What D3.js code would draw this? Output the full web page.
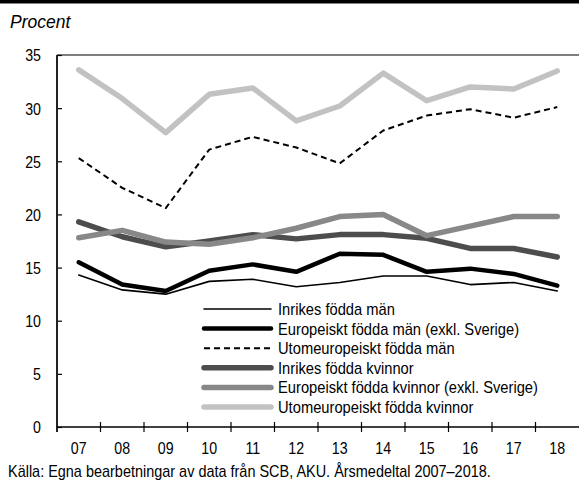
<!DOCTYPE html>
<html><head><meta charset="utf-8">
<script src="https://cdn.jsdelivr.net/npm/d3@7"></script>
<style>body{margin:0;background:#fff}svg{display:block}</style>
</head><body>
<svg id="c" width="579" height="483"></svg>
<script>
const years = ["07","08","09","10","11","12","13","14","15","16","17","18"];
const yTicks = [0,5,10,15,20,25,30,35];
const inrikesMan = [14.3,12.9,12.5,13.7,13.9,13.2,13.6,14.2,14.2,13.4,13.6,12.8];
const europeiskaMan = [15.5,13.4,12.8,14.7,15.3,14.6,16.3,16.2,14.6,14.9,14.4,13.3];
const utomMan = [25.3,22.5,20.6,26.1,27.3,26.3,24.8,27.9,29.3,29.9,29.1,30.1];
const inrikesKvinnor = [19.3,17.9,16.95,17.5,18.1,17.7,18.1,18.1,17.75,16.8,16.8,16.0];
const europeiskaKvinnor = [17.8,18.5,17.4,17.2,17.8,18.7,19.8,20.0,18.0,18.9,19.8,19.8];
const utomKvinnor = [33.6,30.9,27.7,31.3,31.9,28.8,30.2,33.3,30.7,32.0,31.8,33.5];
const seriesNames = ["Inrikes födda män","Europeiskt födda män (exkl. Sverige)","Utomeuropeiskt födda män","Inrikes födda kvinnor","Europeiskt födda kvinnor (exkl. Sverige)","Utomeuropeiskt födda kvinnor"];
const seriesValues = [inrikesMan, europeiskaMan, utomMan, inrikesKvinnor, europeiskaKvinnor, utomKvinnor];
const styles = [
  {color:"#000", w:1.6, dash:null},
  {color:"#000", w:4.5, dash:null},
  {color:"#000", w:2, dash:"6,4"},
  {color:"#4d4d4d", w:5.5, dash:null},
  {color:"#888888", w:5.5, dash:null},
  {color:"#c2c2c2", w:5.5, dash:null}
];
const FONT = "'Liberation Sans', Arial, sans-serif";
const svg = d3.select("#c");
const L = 57, R = 579, T = 55, B = 427;
const x = d3.scaleBand().domain(years).range([L, R]);
const y = d3.scaleLinear().domain([0,35]).range([B, T]);

function condense(sel, f){
  sel.each(function(){
    const w = this.getComputedTextLength();
    d3.select(this).attr("textLength", w*f).attr("lengthAdjust","spacingAndGlyphs");
  });
}

// top bar
svg.append("rect").attr("x",0).attr("y",0).attr("width",579).attr("height",3.5).attr("fill","#000");
// top frame line
svg.append("line").attr("x1",L).attr("x2",R).attr("y1",T).attr("y2",T).attr("stroke","#000").attr("stroke-width",1.2);

svg.append("text").attr("x",10).attr("y",28).text("Procent")
  .attr("font-family",FONT).attr("font-style","italic").attr("font-size",17.5).attr("fill","#000");

// y axis
const yAxis = d3.axisLeft(y).tickValues(yTicks).tickSize(-5).tickPadding(16).tickFormat(d3.format("d"));
const ya = svg.append("g").attr("transform",`translate(${L},0)`).call(yAxis);
ya.select(".domain").remove();
ya.selectAll(".tick line").attr("stroke","#000").attr("stroke-width",1.2);
ya.selectAll(".tick text").attr("font-family",FONT).attr("font-size",16.5).attr("fill","#000").attr("dy","0.36em");
condense(ya.selectAll(".tick text"), 0.86);
svg.append("line").attr("x1",L).attr("x2",L).attr("y1",T).attr("y2",B+5).attr("stroke","#222").attr("stroke-width",2);

// x axis
const xa = svg.append("g").attr("transform",`translate(0,${B})`)
  .call(d3.axisBottom(x).tickSize(0).tickPadding(15));
xa.select(".domain").remove();
xa.selectAll(".tick text").attr("font-family",FONT).attr("font-size",16.5).attr("fill","#000");
condense(xa.selectAll(".tick text"), 0.86);
svg.append("line").attr("x1",L).attr("x2",R).attr("y1",B).attr("y2",B).attr("stroke","#000").attr("stroke-width",1.5);
svg.append("g").selectAll("line").data(years.slice(1)).join("line")
  .attr("x1",d=>x(d)).attr("x2",d=>x(d)).attr("y1",B-5).attr("y2",B+5)
  .attr("stroke","#000").attr("stroke-width",1.2);

// lines
const line = d3.line().x((d,i)=>x(years[i])+x.bandwidth()/2).y(d=>y(d));
[0,1,2,3,4,5].forEach(i=>{
  const s = styles[i];
  svg.append("path").datum(seriesValues[i]).attr("d",line)
    .attr("fill","none").attr("stroke",s.color).attr("stroke-width",s.w)
    .attr("stroke-linejoin","round").attr("stroke-linecap", s.dash? "butt":"round")
    .attr("stroke-dasharray",s.dash);
});

// legend
const lg = svg.append("g");
seriesNames.forEach((n,i)=>{
  const s = styles[i];
  const yy = 309 + i*19.6;
  lg.append("line").attr("x1",204).attr("x2",271).attr("y1",yy).attr("y2",yy)
    .attr("stroke",s.color).attr("stroke-width",s.w).attr("stroke-dasharray",s.dash)
    .attr("stroke-linecap", s.dash? "butt":"round");
  lg.append("text").attr("x",278).attr("y",yy+6).text(n)
    .attr("font-family",FONT).attr("font-size",17).attr("fill","#000");
});
condense(lg.selectAll("text"), 0.865);

const src = svg.append("text").attr("x",8).attr("y",477).text("Källa: Egna bearbetningar av data från SCB, AKU. Årsmedeltal 2007–2018.")
  .attr("font-family",FONT).attr("font-size",17).attr("fill","#000");
condense(src, 0.85);
</script>
</body></html>
